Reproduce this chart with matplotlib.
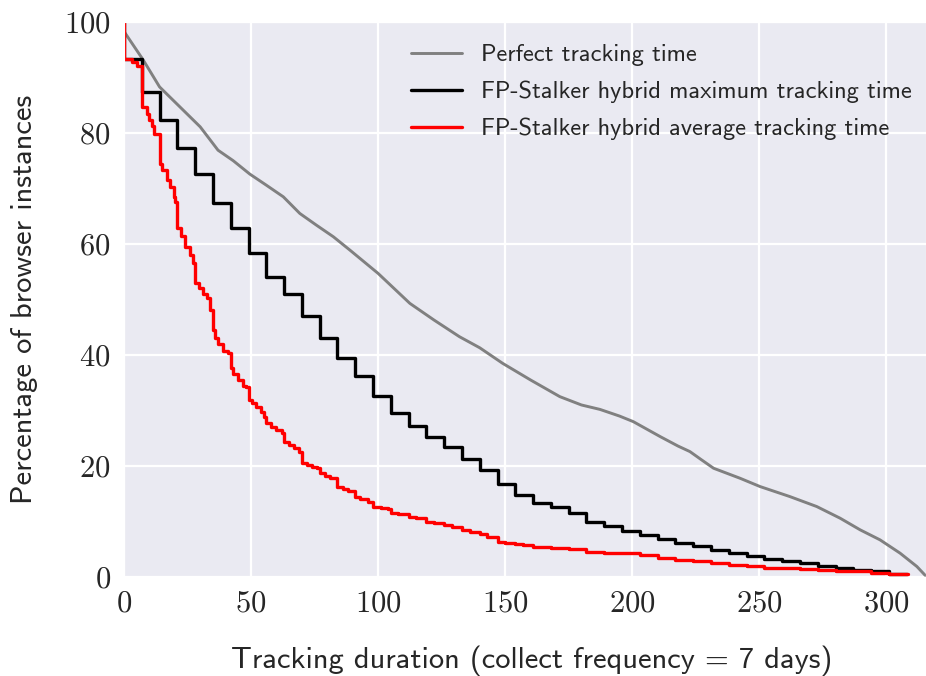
import matplotlib
matplotlib.use('Agg')
import matplotlib.pyplot as plt
import seaborn as sns

# 数据
perfect_x = [0, 7.5, 14, 22, 30, 37, 43, 49.5, 56, 62.7, 69.2, 75.7, 82.4, 88.9,
             100, 112.5, 122, 132, 140, 149, 160, 171.5, 180, 187.3, 195, 200.4,
             211, 218, 222.7, 227, 232, 242.4, 250.3, 262, 272.6, 281.8, 289.7,
             297.5, 305.4, 312, 315.3]
perfect_y = [98.3, 93.2, 88.3, 84.7, 81.1, 76.9, 75.0, 72.6, 70.6, 68.5, 65.5, 63.4,
             61.3, 58.9, 54.7, 49.3, 46.3, 43.3, 41.3, 38.5, 35.5, 32.5, 31.0, 30.2,
             29.0, 28.0, 25.3, 23.6, 22.6, 21.2, 19.6, 17.8, 16.3, 14.5, 12.7, 10.6,
             8.5, 6.7, 4.3, 1.9, 0.3]

max_x = [0] + [7 * k for k in range(44)] + [308]
max_y = [100, 93.3, 87.4, 82.3, 77.3, 72.6, 67.4, 62.9, 58.4, 54.1, 51.0, 47.0, 43.1,
         39.5, 36.2, 32.6, 29.6, 27.2, 25.2, 23.5, 21.3, 19.2, 16.7, 14.8, 13.4,
         12.6, 11.6, 10.0, 9.2, 8.3, 7.6, 6.8, 6.1, 5.6, 4.9, 4.4, 3.8, 3.2, 2.9,
         2.5, 2.0, 1.7, 1.3, 1.0, 0.6, 0.6]

avg_x = [0, 0, 3, 5, 7, 9, 10, 11, 12, 14, 15, 17, 18, 19.5, 20, 21, 22.5, 24, 26,
         27, 28, 29.5, 31, 32.5, 34, 35, 36, 37, 39, 41, 42, 43, 45, 47, 48, 49,
         50.5, 52, 54, 55, 56, 58, 60, 62, 63, 65, 67, 69, 70, 72, 74, 76, 77, 79,
         81, 84, 86, 88, 91, 93, 96, 98, 101, 104, 105, 108, 112, 115, 119, 122,
         126, 129, 133, 136, 140, 143, 147, 150, 154, 157, 161, 168, 175, 182, 189,
         196, 203, 210, 217, 224, 231, 238, 245, 252, 259, 266, 273, 280, 287, 294,
         301, 308.5]
avg_y = [100, 93.3, 92.8, 92.0, 84.7, 83.5, 82.3, 81.2, 79.9, 74.5, 73.3, 71.5, 70.3,
         68.5, 67.5, 62.8, 61.5, 59.5, 58.0, 56.5, 52.9, 52.0, 51.0, 50.2, 48.1,
         44.5, 43.0, 42.0, 40.8, 40.3, 37.6, 36.6, 35.5, 34.5, 34.2, 31.9, 31.3,
         30.7, 29.8, 28.9, 27.7, 27.0, 26.5, 25.9, 24.4, 23.8, 23.3, 22.6, 20.5,
         20.2, 19.9, 19.6, 18.7, 18.2, 17.8, 16.3, 15.9, 15.5, 14.5, 14.1, 13.6,
         12.7, 12.5, 12.3, 11.6, 11.3, 10.8, 10.6, 10.0, 9.7, 9.4, 9.0, 8.5, 8.1,
         7.7, 7.2, 6.4, 6.1, 5.9, 5.7, 5.5, 5.2, 5.0, 4.6, 4.4, 4.3, 4.0, 3.4, 3.1,
         2.8, 2.5, 2.2, 1.9, 1.7, 1.6, 1.4, 1.3, 1.1, 1.0, 0.8, 0.5, 0.5]

labels = ['Perfect tracking time',
          'FP-Stalker hybrid maximum tracking time',
          'FP-Stalker hybrid average tracking time']

sns.set_style('darkgrid')
plt.rcParams['font.family'] = ['cmss10', 'DejaVu Sans']
plt.rcParams['axes.unicode_minus'] = False
plt.rcParams['axes.formatter.use_mathtext'] = True

fig = plt.figure(figsize=(9.26, 6.76), dpi=100)
ax = fig.add_axes([0.1339, 0.1464, 0.8661, 0.8211])

ax.plot(perfect_x, perfect_y, color='gray', linewidth=2.1, label=labels[0])
ax.plot(max_x, max_y, color='black', linewidth=2.4, drawstyle='steps-post', label=labels[1])
ax.plot(avg_x, avg_y, color='red', linewidth=2.4, drawstyle='steps-post', label=labels[2])

ax.set_xlim(0, 315.6)
ax.set_ylim(0, 100)
ax.set_xticks([0, 50, 100, 150, 200, 250, 300])
ax.set_yticks([0, 20, 40, 60, 80, 100])
for lab in ax.get_xticklabels() + ax.get_yticklabels():
    lab.set_fontfamily('cmr10')
    lab.set_fontsize(22)
ax.tick_params(axis='x', pad=6)
ax.tick_params(axis='y', pad=6)
ax.grid(True, color='white', linewidth=1.6)

ax.set_xlabel('Tracking duration (collect frequency = 7 days)', fontsize=22, labelpad=20)
ax.xaxis.label.set_x(0.508)
ax.set_ylabel('Percentage of browser instances', fontsize=22, labelpad=19)

ax.legend(loc='upper right', frameon=False, fontsize=17.6, handlelength=2.1,
          borderaxespad=0.0, labelspacing=0.6, bbox_to_anchor=(0.995, 0.978))

fig.savefig('out.png', dpi=100)
